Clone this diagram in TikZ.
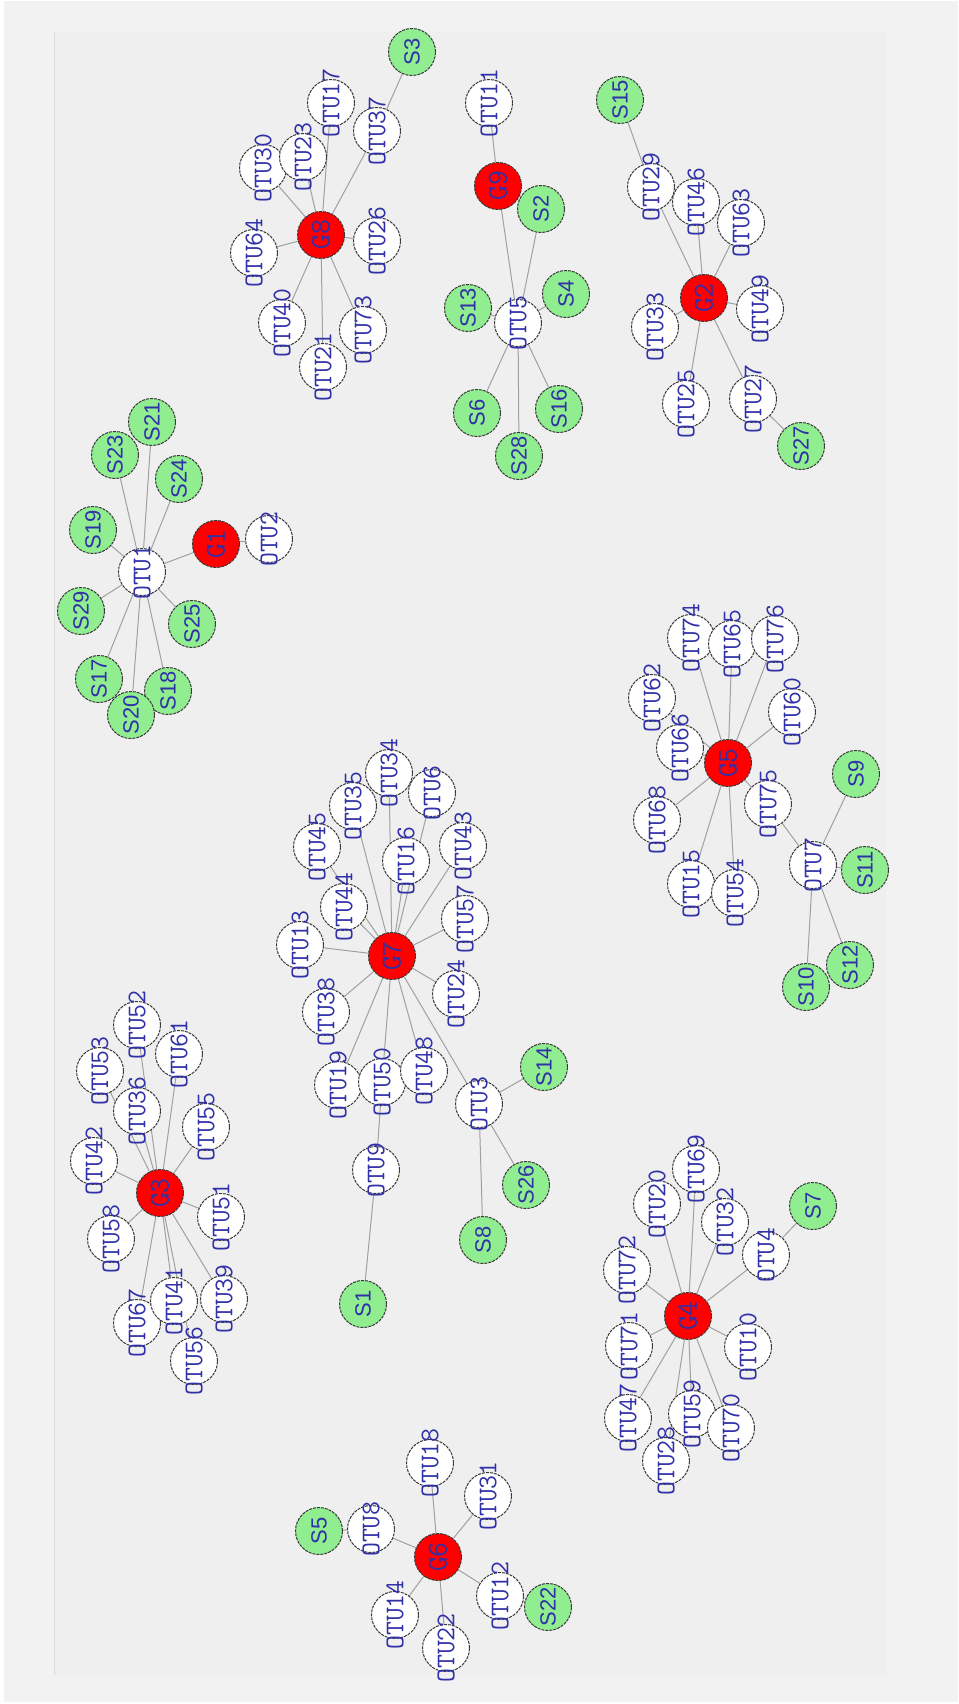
\documentclass[tikz,border=0pt]{standalone}
\usepackage{fontspec}
\newfontfamily\sansf{Liberation Sans}
\definecolor{lgreen}{RGB}{144,238,144}
\definecolor{labblue}{RGB}{48,48,168}
\definecolor{edgegray}{RGB}{160,160,160}
\definecolor{outerbg}{RGB}{242,242,242}
\definecolor{innerbg}{RGB}{239,239,239}
\definecolor{frameline}{RGB}{218,218,218}
\pgfdeclarelayer{back}
\pgfdeclarelayer{edges}
\pgfsetlayers{back,edges,main}
\tikzset{
  base/.style={circle, minimum size=47pt, inner sep=0pt, draw=black!78, line width=1pt, dash pattern=on 3pt off 1pt},
  otu/.style={base, fill=white},
  grp/.style={base, fill=red},
  smp/.style={base, fill=lgreen},
  olab/.style={rotate=90, inner sep=0pt, text=labblue, font=\fontsize{27}{27}\selectfont\ttfamily},
  glab/.style={rotate=90, inner sep=0pt, text=labblue, font=\fontsize{29}{29}\selectfont\ttfamily},
  slab/.style={rotate=90, inner sep=0pt, text=labblue, font=\fontsize{22}{22}\selectfont\sansf},
  edge/.style={draw=edgegray, line width=1pt},
}
\newcommand\nodeOtu[3]{\node[otu, label={[olab]center:#1}] (#1) at (#2,#3) {};}
\newcommand\nodeSmp[3]{\node[smp, label={[slab]center:#1}] (#1) at (#2,#3) {};}
\newcommand\nodeGrp[3]{\node[grp, label={[glab]center:#1}] (#1) at (#2,#3) {};}
\begin{document}
\begin{tikzpicture}[x=1pt,y=-1pt]
\useasboundingbox (0,0) rectangle (958,1704);
\begin{pgfonlayer}{back}
  \fill[white] (0,0) rectangle (958,1704);
  \fill[outerbg] (4,1) rectangle (958,1702);
  \fill[innerbg] (54,32) rectangle (886,1675);
  \draw[frameline, line width=1pt] (54,32) -- (54,1675);
\end{pgfonlayer}
% ---- G8 cluster
\nodeGrp{G8}{321}{235}
\nodeOtu{OTU30}{263}{168}
\nodeOtu{OTU23}{303}{157}
\nodeOtu{OTU17}{331}{103}
\nodeOtu{OTU37}{377}{131}
\nodeSmp{S3}{412}{52}
\nodeOtu{OTU64}{254}{253}
\nodeOtu{OTU40}{282}{323}
\nodeOtu{OTU21}{323}{367}
\nodeOtu{OTU73}{363}{330}
\nodeOtu{OTU26}{377}{241}
% ---- G9 cluster
\nodeOtu{OTU11}{489}{103}
\nodeGrp{G9}{498}{186}
\nodeSmp{S2}{541}{209}
\nodeSmp{S13}{468}{308}
\nodeOtu{OTU5}{518}{323}
\nodeSmp{S4}{566}{294}
\nodeSmp{S6}{477}{413}
\nodeSmp{S16}{559}{409}
\nodeSmp{S28}{519}{456}
% ---- G2 cluster
\nodeSmp{S15}{620}{100}
\nodeOtu{OTU29}{651}{187}
\nodeOtu{OTU46}{696}{202}
\nodeOtu{OTU63}{741}{223}
\nodeGrp{G2}{704}{298}
\nodeOtu{OTU33}{655}{327}
\nodeOtu{OTU49}{760}{309}
\nodeOtu{OTU25}{686}{404}
\nodeOtu{OTU27}{753}{399}
\nodeSmp{S27}{801}{446}
% ---- G1 cluster
\nodeSmp{S21}{152}{422}
\nodeSmp{S23}{115}{455}
\nodeSmp{S24}{179}{479}
\nodeSmp{S19}{93}{530}
\nodeOtu{OTU1}{142}{572}
\nodeGrp{G1}{216}{544}
\nodeOtu{OTU2}{269}{539}
\nodeSmp{S29}{81}{611}
\nodeSmp{S25}{192}{624}
\nodeSmp{S17}{99}{679}
\nodeSmp{S18}{168}{691}
\nodeSmp{S20}{131}{715}
% ---- G7 cluster
\nodeOtu{OTU45}{317}{847}
\nodeOtu{OTU35}{353}{806}
\nodeOtu{OTU34}{389}{773}
\nodeOtu{OTU6}{432}{793}
\nodeOtu{OTU16}{406}{861}
\nodeOtu{OTU43}{463}{846}
\nodeOtu{OTU44}{344}{907}
\nodeOtu{OTU13}{300}{945}
\nodeGrp{G7}{392}{956}
\nodeOtu{OTU57}{465}{919}
\nodeOtu{OTU24}{456}{994}
\nodeOtu{OTU38}{326}{1012}
\nodeOtu{OTU19}{338}{1085}
\nodeOtu{OTU50}{382}{1082}
\nodeOtu{OTU48}{424}{1071}
\nodeOtu{OTU3}{479}{1104}
\nodeSmp{S14}{544}{1067}
\nodeSmp{S26}{526}{1185}
\nodeSmp{S8}{483}{1240}
\nodeOtu{OTU9}{376}{1170}
\nodeSmp{S1}{363}{1304}
% ---- G5 cluster
\nodeOtu{OTU74}{691}{638}
\nodeOtu{OTU65}{732}{644}
\nodeOtu{OTU76}{775}{639}
\nodeOtu{OTU62}{652}{698}
\nodeOtu{OTU60}{792}{712}
\nodeOtu{OTU66}{680}{748}
\nodeGrp{G5}{728}{763}
\nodeOtu{OTU68}{657}{820}
\nodeOtu{OTU75}{768}{804}
\nodeOtu{OTU15}{691}{884}
\nodeOtu{OTU54}{735}{893}
\nodeOtu{OTU7}{813}{865}
\nodeSmp{S9}{856}{774}
\nodeSmp{S11}{865}{870}
\nodeSmp{S12}{850}{965}
\nodeSmp{S10}{806}{987}
% ---- G4 cluster
\nodeOtu{OTU20}{657}{1204}
\nodeOtu{OTU69}{696}{1169}
\nodeOtu{OTU32}{725}{1222}
\nodeOtu{OTU4}{766}{1255}
\nodeSmp{S7}{813}{1206}
\nodeOtu{OTU72}{627}{1270}
\nodeGrp{G4}{688}{1316}
\nodeOtu{OTU71}{629}{1346}
\nodeOtu{OTU10}{748}{1347}
\nodeOtu{OTU47}{628}{1418}
\nodeOtu{OTU59}{692}{1414}
\nodeOtu{OTU70}{731}{1428}
\nodeOtu{OTU28}{666}{1461}
% ---- G3 cluster
\nodeOtu{OTU52}{137}{1025}
\nodeOtu{OTU53}{100}{1071}
\nodeOtu{OTU61}{179}{1054}
\nodeOtu{OTU36}{137}{1111}
\nodeOtu{OTU55}{206}{1127}
\nodeOtu{OTU42}{94}{1161}
\nodeGrp{G3}{160}{1193}
\nodeOtu{OTU51}{221}{1217}
\nodeOtu{OTU58}{111}{1239}
\nodeOtu{OTU67}{137}{1323}
\nodeOtu{OTU41}{174}{1301}
\nodeOtu{OTU39}{224}{1299}
\nodeOtu{OTU56}{194}{1361}
% ---- G6 cluster
\nodeOtu{OTU18}{430}{1463}
\nodeOtu{OTU31}{488}{1496}
\nodeSmp{S5}{319}{1531}
\nodeOtu{OTU8}{371}{1529}
\nodeGrp{G6}{438}{1557}
\nodeOtu{OTU12}{500}{1596}
\nodeSmp{S22}{548}{1607}
\nodeOtu{OTU14}{395}{1615}
\nodeOtu{OTU22}{446}{1648}
% ---- edges
\begin{pgfonlayer}{edges}
\foreach \t in {OTU30,OTU23,OTU17,OTU37,OTU64,OTU40,OTU21,OTU73,OTU26} \draw[edge] (G8) -- (\t);
\draw[edge] (OTU37) -- (S3);
\draw[edge] (OTU11) -- (G9);
\draw[edge] (G9) -- (OTU5);
\foreach \t in {S2,S13,S4,S6,S16,S28} \draw[edge] (OTU5) -- (\t);
\draw[edge] (S15) -- (OTU29);
\foreach \t in {OTU29,OTU46,OTU63,OTU33,OTU49,OTU25,OTU27} \draw[edge] (G2) -- (\t);
\draw[edge] (OTU27) -- (S27);
\foreach \t in {S21,S23,S24,S19,S29,S25,S17,S20,S18,G1} \draw[edge] (OTU1) -- (\t);
\draw[edge] (G1) -- (OTU2);
\foreach \t in {OTU45,OTU35,OTU34,OTU6,OTU16,OTU43,OTU44,OTU13,OTU57,OTU24,OTU38,OTU19,OTU50,OTU48,OTU3} \draw[edge] (G7) -- (\t);
\draw[edge] (OTU50) -- (OTU9);
\draw[edge] (OTU9) -- (S1);
\foreach \t in {S14,S26,S8} \draw[edge] (OTU3) -- (\t);
\foreach \t in {OTU74,OTU65,OTU76,OTU62,OTU60,OTU66,OTU68,OTU15,OTU54,OTU75} \draw[edge] (G5) -- (\t);
\draw[edge] (OTU75) -- (OTU7);
\foreach \t in {S9,S11,S10,S12} \draw[edge] (OTU7) -- (\t);
\foreach \t in {OTU72,OTU20,OTU69,OTU32,OTU4,OTU71,OTU47,OTU28,OTU59,OTU70,OTU10} \draw[edge] (G4) -- (\t);
\draw[edge] (OTU4) -- (S7);
\foreach \t in {OTU52,OTU53,OTU61,OTU36,OTU55,OTU42,OTU51,OTU58,OTU67,OTU41,OTU39,OTU56} \draw[edge] (G3) -- (\t);
\foreach \t in {OTU18,OTU31,OTU8,OTU12,OTU14,OTU22} \draw[edge] (G6) -- (\t);
\draw[edge] (OTU8) -- (S5);
\draw[edge] (OTU12) -- (S22);
\end{pgfonlayer}
\end{tikzpicture}
\end{document}
